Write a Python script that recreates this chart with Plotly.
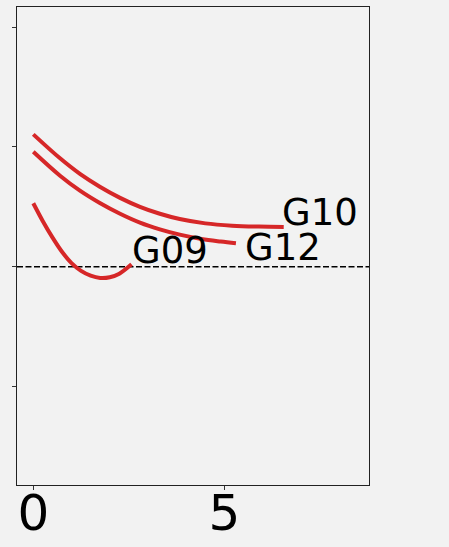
import plotly.graph_objects as go

# Trajectories for each group
g10_x = [0, 0.70, 1.22, 1.74, 2.27, 2.79, 3.31, 3.83, 4.5, 5.2, 5.9, 6.55]
g10_y = [1.105, 0.905, 0.775, 0.668, 0.575, 0.50, 0.442, 0.398, 0.362, 0.343, 0.335, 0.332]

g12_x = [0, 0.70, 1.22, 1.74, 2.27, 2.79, 3.31, 3.83, 4.4, 4.9, 5.3]
g12_y = [0.96, 0.76, 0.635, 0.532, 0.442, 0.368, 0.312, 0.268, 0.232, 0.21, 0.195]

g09_x = [0, 0.25, 0.5, 0.75, 1.0, 1.25, 1.5, 1.75, 2.0, 2.25, 2.57]
g09_y = [0.53, 0.38, 0.245, 0.125, 0.03, -0.035, -0.075, -0.094, -0.088, -0.058, 0.02]

names = ["G10", "G12", "G09"]
label_pos = {"G10": (6.52, 0.33), "G12": (5.56, 0.042), "G09": (2.62, 0.014)}

x_ticks = [0, 5]
y_ticks = [-1, 0, 1, 2]

RED = "#d62728"
BG = "#f2f2f2"
FONT = "DejaVu Sans"

fig = go.Figure()

# zero reference line
fig.add_trace(go.Scatter(
    x=[-0.426, 8.78], y=[0, 0], mode="lines",
    line=dict(color="black", width=1.5, dash="6px,2.5px"),
    hoverinfo="skip", showlegend=False,
))

for nm, xs, ys in zip(names, [g10_x, g12_x, g09_x], [g10_y, g12_y, g09_y]):
    fig.add_trace(go.Scatter(
        x=xs, y=ys, mode="lines", name=nm,
        line=dict(color=RED, width=4, shape="spline", smoothing=1.0),
        showlegend=False,
    ))
    lx, ly = label_pos[nm]
    fig.add_annotation(
        x=lx, y=ly, text=nm, showarrow=False,
        xanchor="left", yanchor="bottom", yshift=-9, xshift=-3,
        font=dict(family=FONT, size=37, color="black"),
    )

fig.update_layout(
    width=449, height=547,
    margin=dict(l=17, r=80, t=7, b=62, autoexpand=False),
    paper_bgcolor=BG, plot_bgcolor=BG,
    font=dict(family=FONT, color="black"),
    showlegend=False,
)
fig.update_xaxes(
    range=[-0.426, 8.78], tickvals=x_ticks, ticktext=[str(v) for v in x_ticks],
    tickfont=dict(size=50, family=FONT, color="black"),
    ticks="outside", ticklen=4, tickcolor="#333", tickwidth=1,
    ticklabelstandoff=-20,
    showline=True, linecolor="#222", linewidth=1, mirror=True,
    showgrid=False, zeroline=False, automargin=False,
)
fig.update_yaxes(
    range=[-1.822, 2.168], tickvals=y_ticks, showticklabels=False,
    ticks="outside", ticklen=4, tickcolor="#333", tickwidth=1,
    showline=True, linecolor="#222", linewidth=1, mirror=True,
    showgrid=False, zeroline=False, automargin=False,
)

fig.write_html("out.html")
